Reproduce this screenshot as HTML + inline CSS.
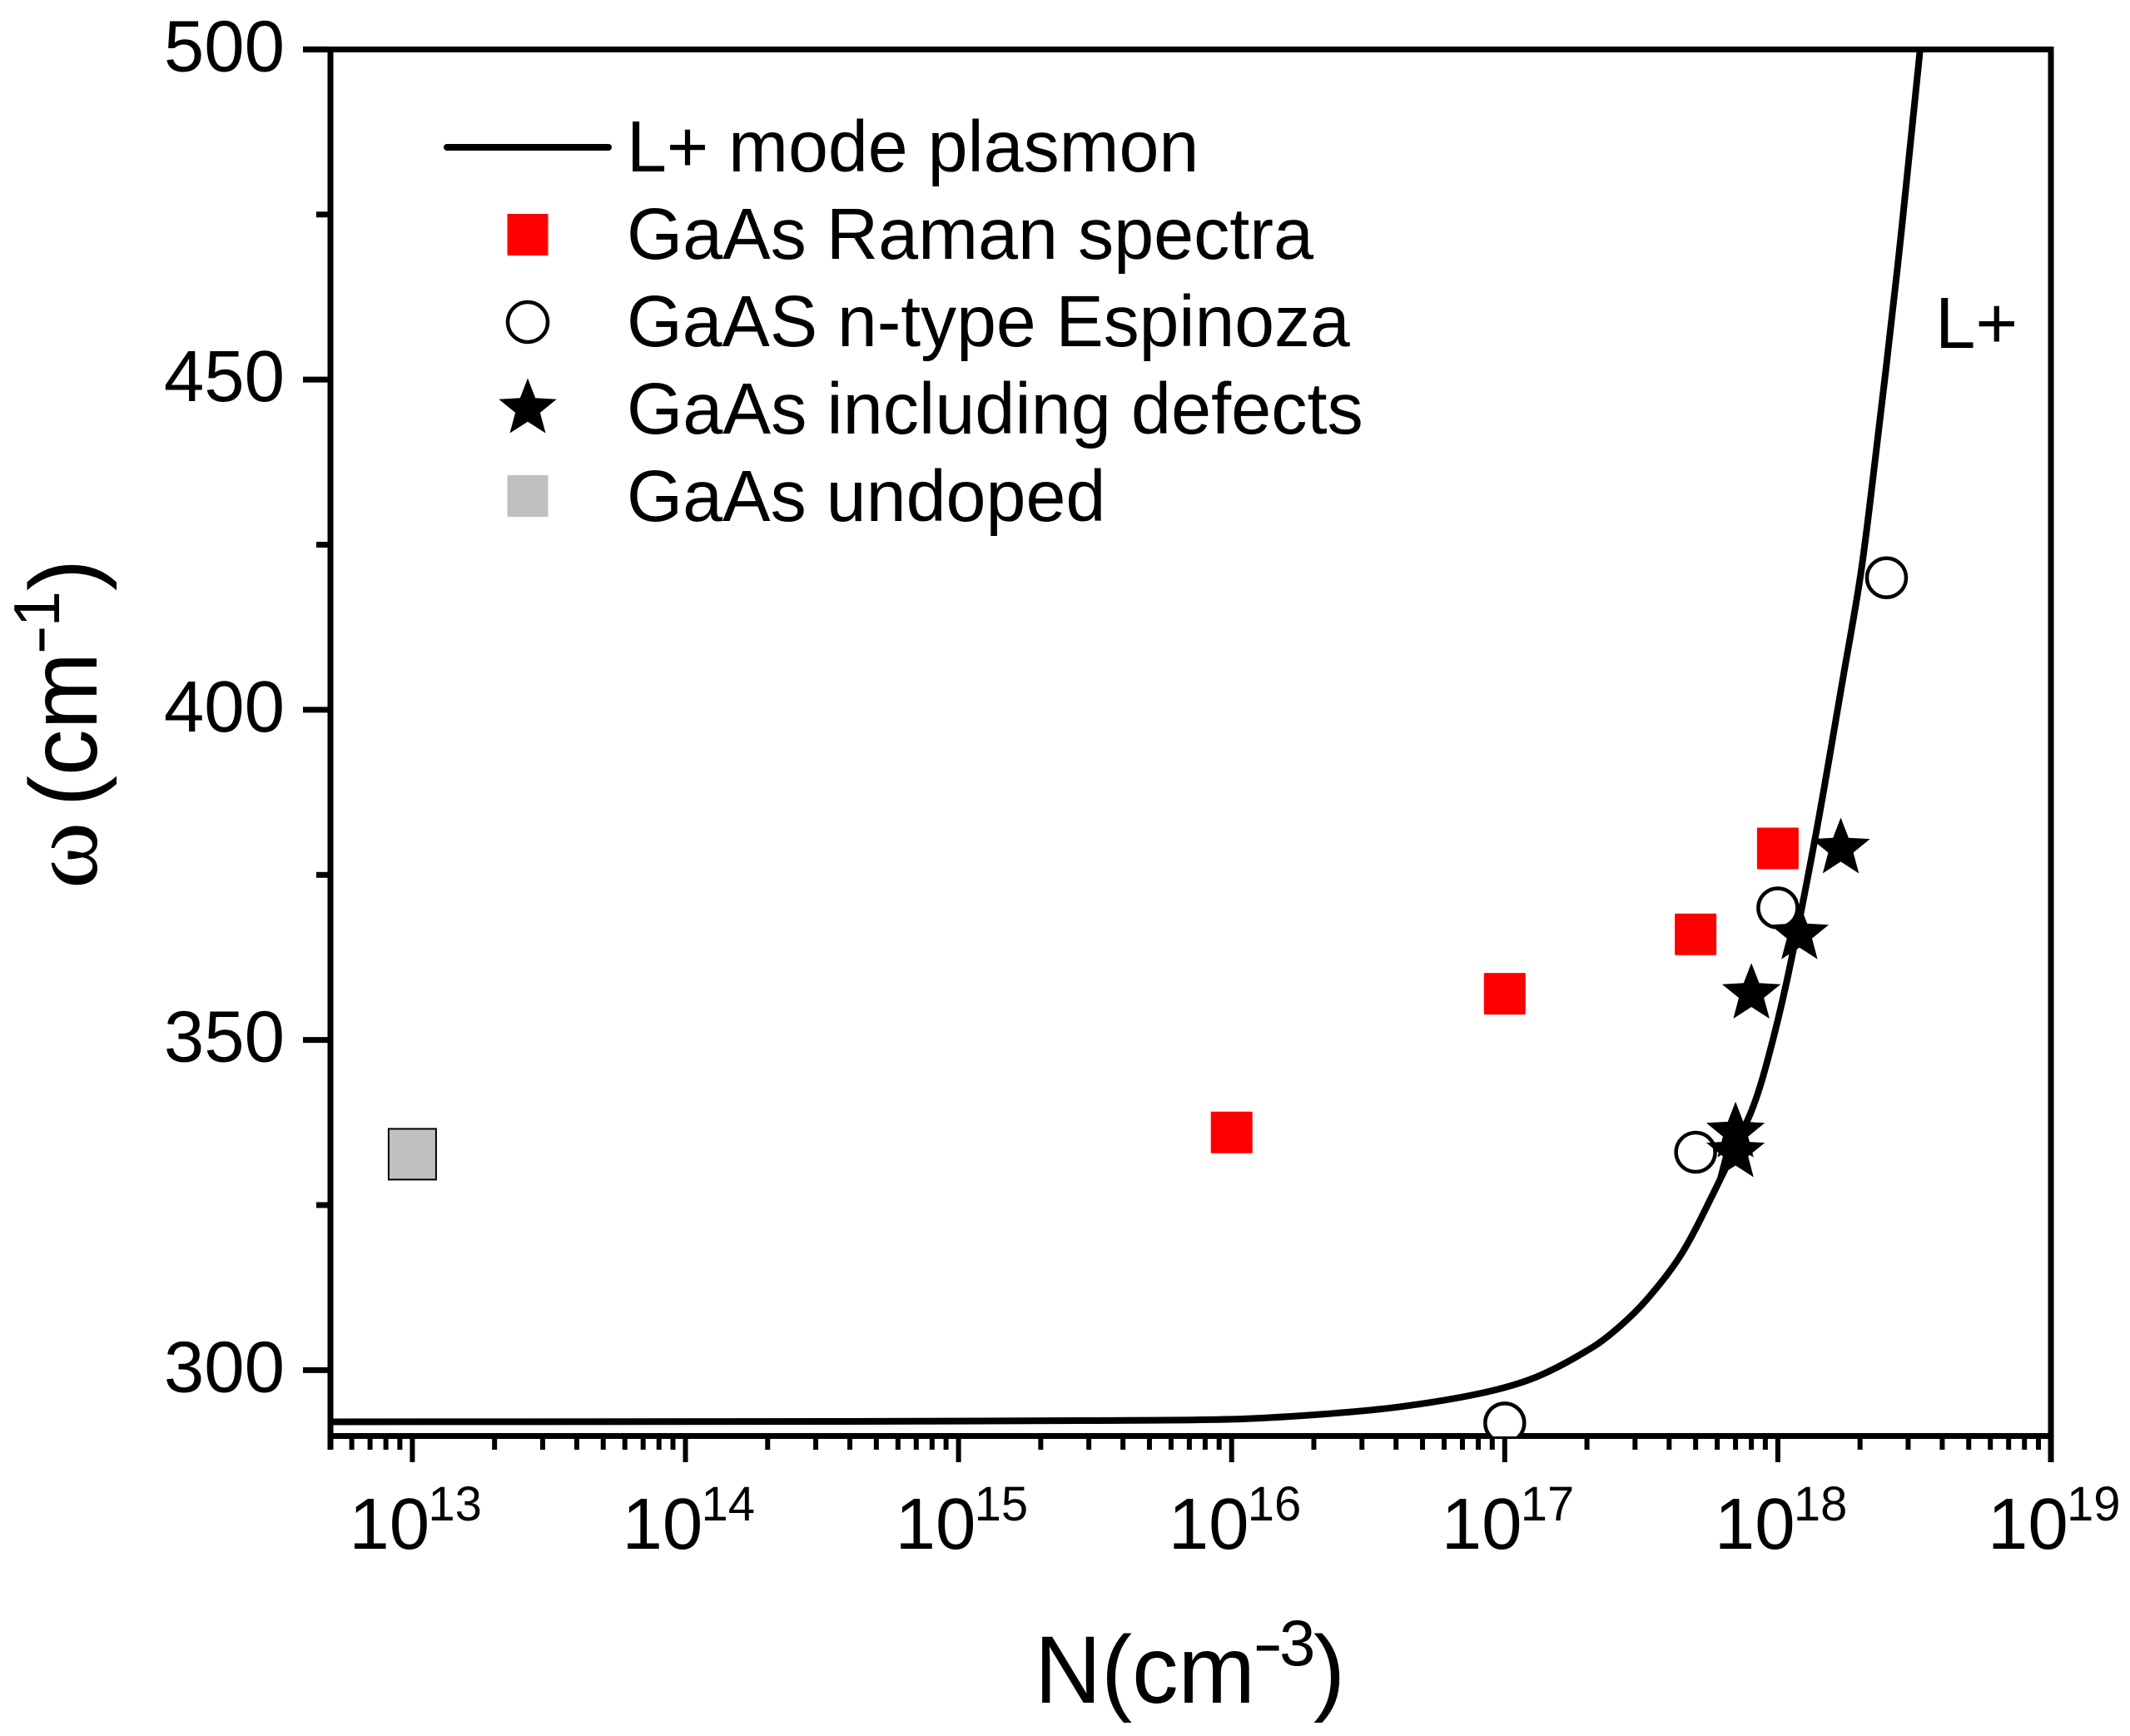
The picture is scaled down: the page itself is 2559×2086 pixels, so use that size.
<!DOCTYPE html>
<html lang="en">
<head>
<meta charset="utf-8">
<title>L+ mode plasmon in GaAs</title>
<style>
html,body{margin:0;padding:0;background:#fff;}
svg{display:block;}
text{font-family:"Liberation Sans",Arial,sans-serif;fill:#000;}
</style>
</head>
<body>
<svg id="chart" xmlns="http://www.w3.org/2000/svg" width="2559" height="2086" viewBox="0 0 2559 2086">
  <defs>
    <clipPath id="plot-clip"><rect x="397" y="59" width="2067" height="1667"></rect></clipPath>
  </defs>
  <rect x="0" y="0" width="2559" height="2086" fill="#fff"></rect>
  <g id="axes"></g>
  <g id="marks" clip-path="url(#plot-clip)"></g>

  <g>
    <text x="1243" y="2046" font-size="115" textLength="265" lengthAdjust="spacingAndGlyphs">N(cm</text>
    <text transform="translate(1505,2001) scale(1.4,1)" x="0" y="0" font-size="78">-</text>
    <text x="1537" y="2001" font-size="78">3</text>
    <text x="1578" y="2046" font-size="115">)</text>
  </g>
  <g transform="translate(116,0) rotate(-90)">
    <text transform="translate(-1068,0) scale(1.06,1)" x="0" y="0" font-size="115" style="font-family:'Liberation Serif',serif">ω</text>
    <text x="-969" y="0" font-size="115" textLength="185" lengthAdjust="spacingAndGlyphs">(cm</text>
    <text transform="translate(-787,-45) scale(1.4,1)" x="0" y="0" font-size="78">-</text>
    <text x="-753.5" y="-45" font-size="78">1</text>
    <text x="-710" y="0" font-size="115">)</text>
  </g>

  <g>
    <line x1="537" y1="177" x2="731" y2="177" stroke="#000" stroke-width="8" stroke-linecap="round"></line>
    <text x="753" y="206" font-size="87" textLength="687.3" lengthAdjust="spacingAndGlyphs">L+ mode plasmon</text>
    <rect x="609.5" y="257" width="49" height="50" fill="#ff0000"></rect>
    <text x="753" y="311" font-size="87" textLength="825" lengthAdjust="spacingAndGlyphs">GaAs Raman spectra</text>
    <circle cx="634" cy="387" r="24" fill="#fff" stroke="#000" stroke-width="4.5"></circle>
    <text x="753" y="416" font-size="87" textLength="868.7" lengthAdjust="spacingAndGlyphs">GaAS n-type Espinoza</text>
    <polygon id="legend-star" fill="#000"></polygon>
    <text x="753" y="521" font-size="87" textLength="884.8" lengthAdjust="spacingAndGlyphs">GaAs including defects</text>
    <rect x="609.5" y="571" width="49" height="50" fill="#c0c0c0"></rect>
    <text x="753" y="626" font-size="87" textLength="575.4" lengthAdjust="spacingAndGlyphs">GaAs undoped</text>
  </g>
  <text x="2325" y="418" font-size="87">L+</text>
</svg>
<script>
// ---- chart data ----
const curveLogN = [12.7, 14.538, 15.452, 16.0, 16.305, 16.61, 16.915, 17.118, 17.321, 17.423, 17.519, 17.635, 17.72, 17.897, 17.955, 18.034, 18.139, 18.238, 18.302, 18.349, 18.438, 18.52, 18.54];
const curveOmega = [292.17, 292.24, 292.36, 292.57, 293.25, 294.42, 296.52, 299.0, 303.45, 306.7, 310.64, 316.8, 323.1, 338.6, 345.8, 359.15, 381.1, 404.65, 420.15, 435.3, 466.9, 499.6, 507.4];
const ramanN = [1e16, 1e17, 5e17, 1e18];
const ramanOmega = [336, 357, 366, 379];
const espinozaN = [1e17, 5e17, 1e18, 2.5e18];
const espinozaOmega = [292, 333, 370, 420];
const defectN = [7e17, 7e17, 8e17, 1.2e18, 1.7e18];
const defectOmega = [333, 336, 357, 366, 379];
const undopedN = [1e13];
const undopedOmega = [332.7];
const xMajorExponents = [13, 14, 15, 16, 17, 18, 19];
const xMinorMultipliers = [2, 3, 4, 5, 6, 7, 8, 9];
const yMajorTicks = [300, 350, 400, 450, 500];
const yMinorTicks = [325, 375, 425, 475];

// ---- axis functions ----
const SVGNS = 'http://www.w3.org/2000/svg';
function xLog(l) { return 495.4 + (l - 13) * 328.1; }
function xScale(n) { return xLog(Math.log10(n)); }
function yScale(w) { return 59.4 + (500 - w) * 7.935; }
function make(tag, attrs, parent) {
  const el = document.createElementNS(SVGNS, tag);
  for (const k in attrs) el.setAttribute(k, attrs[k]);
  parent.appendChild(el);
  return el;
}
function starPoints(cx, cy, R) {
  const r = R * 0.43, pts = [];
  for (let i = 0; i < 10; i++) {
    const a = -Math.PI / 2 + i * Math.PI / 5, q = i % 2 ? r : R;
    pts.push((cx + q * Math.cos(a)).toFixed(1) + ',' + (cy + q * Math.sin(a)).toFixed(1));
  }
  return pts.join(' ');
}

const marks = document.getElementById('marks');
const axes = document.getElementById('axes');
const legendStar = document.getElementById('legend-star');
legendStar.setAttribute('points', starPoints(634, 491, 36.5));

// ---- curve: chord-length spline through the read points ----
const P = curveLogN.map((l, i) => [xLog(l), yScale(curveOmega[i])]);
const dist = (a, b) => Math.hypot(a[0] - b[0], a[1] - b[1]);
const tangent = P.map((p, i) => {
  const a = P[Math.max(i - 1, 0)], b = P[Math.min(i + 1, P.length - 1)];
  const L = dist(a, b);
  return [(b[0] - a[0]) / L, (b[1] - a[1]) / L];
});
let d = 'M' + P[0][0].toFixed(1) + ' ' + P[0][1].toFixed(1);
for (let i = 0; i < P.length - 1; i++) {
  const s = dist(P[i], P[i + 1]) / 3;
  d += 'C' + (P[i][0] + tangent[i][0] * s).toFixed(1) + ' ' + (P[i][1] + tangent[i][1] * s).toFixed(1) + ' ' +
       (P[i + 1][0] - tangent[i + 1][0] * s).toFixed(1) + ' ' + (P[i + 1][1] - tangent[i + 1][1] * s).toFixed(1) + ' ' +
       P[i + 1][0].toFixed(1) + ' ' + P[i + 1][1].toFixed(1);
}
const curve = make('path', { d: d, fill: 'none', stroke: '#000', 'stroke-width': 8 }, marks);



// ---- markers ----
ramanN.forEach((n, i) => {
  const el = make('rect', { x: xScale(n) - 25, y: yScale(ramanOmega[i]) - 25, width: 50, height: 50, rx: 1, fill: '#ff0000' }, marks);
  
  
});
espinozaN.forEach((n, i) => {
  const el = make('circle', { cx: xScale(n), cy: yScale(espinozaOmega[i]), r: 23.5, fill: '#fff', stroke: '#000', 'stroke-width': 4.5 }, marks);
  
  
});
defectN.forEach((n, i) => {
  const el = make('polygon', { points: starPoints(xScale(n), yScale(defectOmega[i]), 37), fill: '#000' }, marks);
  
  
});
undopedN.forEach((n, i) => {
  const el = make('rect', { x: xScale(n) - 28.5, y: yScale(undopedOmega[i]) - 30.5, width: 57, height: 61, fill: '#c0c0c0', stroke: '#000', 'stroke-width': 2 }, marks);
  
  
});

// ---- frame ----
const frame = make('path', { d: 'M397 1742V59.4M364 59.4H2464M2464 56V1757M394 1725.5H2467', fill: 'none', stroke: '#000', 'stroke-width': 7 }, axes);



// ---- x ticks ----
xMajorExponents.forEach((e) => {
  const x = xLog(e);
  const t = make('line', { x1: x, x2: x, y1: 1729, y2: 1757, stroke: '#000', 'stroke-width': 6 }, axes);
  
  
  const base = make('text', { x: x - 76, y: 1861, 'font-size': 87 }, axes);
  base.textContent = '10';
  
  
  const sup = make('text', { x: x + 19, y: 1827, 'font-size': 58 }, axes);
  sup.textContent = String(e);
  
  
});
xMajorExponents.concat([12]).forEach((e) => {
  xMinorMultipliers.forEach((m) => {
    const n = m * Math.pow(10, e);
    if (n < 5e12 || n > 1e19) return;
    const x = xScale(n);
    const t = make('line', { x1: x, x2: x, y1: 1729, y2: 1742, stroke: '#000', 'stroke-width': 6 }, axes);
    
    
  });
});

// ---- y ticks ----
yMajorTicks.forEach((v) => {
  const y = yScale(v);
  const t = make('line', { x1: 364, x2: 394, y1: y, y2: y, stroke: '#000', 'stroke-width': 7 }, axes);
  
  
  const lab = make('text', { x: 342, y: y + 26, 'font-size': 87, 'text-anchor': 'end' }, axes);
  lab.textContent = String(v);
  
  
});
yMinorTicks.forEach((v) => {
  const y = yScale(v);
  const t = make('line', { x1: 380, x2: 394, y1: y, y2: y, stroke: '#000', 'stroke-width': 7 }, axes);
  
  
});
</script>
</body>
</html>
